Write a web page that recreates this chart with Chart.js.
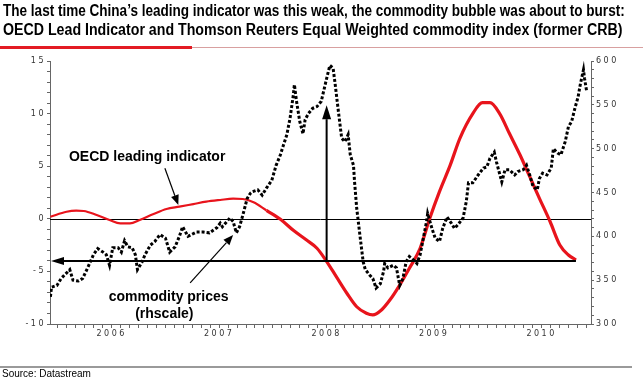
<!DOCTYPE html>
<html>
<head>
<meta charset="utf-8">
<script src="https://cdn.jsdelivr.net/npm/chart.js@4.4.1/dist/chart.umd.min.js"></script>
<style>
  html, body { margin: 0; padding: 0; background: #fff; }
  #wrap { position: relative; width: 643px; height: 385px; overflow: hidden; }
  #chart { position: absolute; left: 0; top: 0; }
  .title { position: absolute; left: 3px; font-family: "Liberation Sans", Arial, sans-serif; font-weight: bold;
           font-size: 16px; line-height: 16px; white-space: nowrap; transform-origin: 0 0; color: #000; }
  .rule { position: absolute; }
  #source { position: absolute; left: 2px; top: 368px; font: 10px "Liberation Sans", Arial, sans-serif; color: #000; }
</style>
</head>
<body>
<div id="wrap">
  <canvas id="chart" width="643" height="385"></canvas>
  <div id="t1" class="title" style="top:3px">The last time China’s leading indicator was this weak, the commodity bubble was about to burst:</div>
  <div id="t2" class="title" style="top:22px">OECD Lead Indicator and Thomson Reuters Equal Weighted commodity index (former CRB)</div>
  <div class="rule" style="left:0;top:46px;width:192px;height:3px;background:#e31b23"></div>
  <div class="rule" style="left:192px;top:47px;width:451px;height:1px;background:#d8a0a0"></div>
  <div class="rule" style="left:0;top:366px;width:632px;height:2px;background:#9a9a9a"></div>
  <div id="source">Source: Datastream</div>
</div>
<script>
// dates are decimal years
const commodityDates = [2005.93, 2005.94, 2005.99, 2006.03, 2006.11, 2006.14, 2006.19, 2006.23, 2006.28, 2006.33,
  2006.37, 2006.42, 2006.45, 2006.48, 2006.51, 2006.56, 2006.59, 2006.62, 2006.65, 2006.69,
  2006.72, 2006.74, 2006.78, 2006.81, 2006.86, 2006.90, 2006.95, 2007.00, 2007.04, 2007.09,
  2007.13, 2007.16, 2007.21, 2007.29, 2007.35, 2007.41, 2007.48, 2007.51, 2007.53, 2007.60,
  2007.63, 2007.66, 2007.69, 2007.72, 2007.76, 2007.79, 2007.81, 2007.86, 2007.90, 2007.94,
  2007.99, 2008.03, 2008.07, 2008.09, 2008.13, 2008.16, 2008.19, 2008.20, 2008.22, 2008.25,
  2008.28, 2008.30, 2008.33, 2008.37, 2008.41, 2008.45, 2008.50, 2008.53, 2008.56, 2008.58,
  2008.61, 2008.64, 2008.67, 2008.70, 2008.72, 2008.75, 2008.76, 2008.78, 2008.81, 2008.84,
  2008.86, 2008.90, 2008.93, 2008.96, 2009.00, 2009.03, 2009.04, 2009.07, 2009.12, 2009.15,
  2009.18, 2009.21, 2009.24, 2009.27, 2009.31, 2009.34, 2009.37, 2009.40, 2009.43, 2009.44,
  2009.48, 2009.51, 2009.55, 2009.58, 2009.62, 2009.66, 2009.69, 2009.72, 2009.77, 2009.80,
  2009.82, 2009.86, 2009.91, 2009.96, 2009.99, 2010.02, 2010.06, 2010.08, 2010.13, 2010.16,
  2010.20, 2010.25, 2010.28, 2010.33, 2010.36, 2010.39, 2010.42, 2010.46, 2010.48, 2010.51,
  2010.55, 2010.59, 2010.61, 2010.65, 2010.68, 2010.72, 2010.75, 2010.78, 2010.81, 2010.84,
  2010.86, 2010.89, 2010.90, 2010.92];
const commodityValues = [331, 342, 344, 352, 362, 350, 349, 352, 365, 379,
  386, 382, 379, 367, 387, 387, 382, 395, 388, 387,
  379, 362, 370, 379, 390, 394, 402, 398, 382, 388,
  400, 411, 400, 405, 405, 404, 410, 415, 411, 421,
  417, 404, 411, 424, 443, 449, 451, 453, 447, 455,
  464, 481, 493, 501, 516, 535, 561, 573, 554, 531,
  517, 533, 540, 546, 548, 554, 580, 595, 592, 573,
  542, 512, 508, 516, 493, 481, 462, 432, 401, 371,
  362, 356, 352, 341, 346, 360, 369, 364, 367, 364,
  344, 352, 371, 377, 373, 369, 379, 398, 417, 426,
  409, 398, 394, 409, 422, 415, 409, 413, 421, 440,
  461, 461, 470, 478, 479, 489, 496, 485, 462, 476,
  476, 470, 474, 476, 481, 470, 457, 453, 466, 472,
  470, 478, 500, 495, 493, 508, 525, 531, 546, 559,
  573, 590, 580, 565];

const oecdDates = [2005.93, 2006.08, 2006.17, 2006.24, 2006.36, 2006.48, 2006.58, 2006.67, 2006.76, 2006.89,
  2007.01, 2007.13, 2007.26, 2007.38, 2007.51, 2007.63, 2007.72, 2007.82, 2007.94, 2008.07,
  2008.19, 2008.31, 2008.41, 2008.49, 2008.59, 2008.69, 2008.78, 2008.87, 2008.93, 2009.01,
  2009.09, 2009.18, 2009.27, 2009.37, 2009.46, 2009.55, 2009.65, 2009.74, 2009.86, 2009.95,
  2010.02, 2010.11, 2010.20, 2010.30, 2010.39, 2010.48, 2010.58, 2010.67, 2010.75, 2010.82];
const oecdValues = [0.2, 0.67, 0.77, 0.74, 0.36, -0.11, -0.43, -0.43, -0.11, 0.46,
  0.93, 1.15, 1.4, 1.63, 1.79, 1.91, 1.88, 1.57, 0.8, -0.05,
  -1.1, -2.0, -2.8, -3.9, -5.5, -7.1, -8.36, -8.98, -9.14, -8.67,
  -7.7, -6.3, -4.7, -2.8, 0.05, 2.58, 5.1, 7.65, 10.0, 11.04,
  11.04, 10.0, 8.13, 6.06, 4.0, 1.95, -0.28, -2.49, -3.44, -3.92];

const yearLabels = ['2006', '2007', '2008', '2009', '2010'];

// annotations, in data units (decimal year, lhs value)
const thresholdLevel = -4;
const thresholdEnd = 2010.82;
const peakArrow = { x: 2008.5, from: -4, to: 10.8 };
const oecdArrow = { x1: 2006.995, y1: 4.8, x2: 2007.12, y2: 1.3 };
const commodityArrow = { x1: 2007.23, y1: -6.1, x2: 2007.63, y2: -1.55 };
const labels = [
  { text: 'OECD leading indicator', x: 2006.83, y: 5.87 },
  { text: 'commodity prices', x: 2007.03, y: -7.43 },
  { text: '(rhscale)', x: 2006.99, y: -9.05 }
];

// squeeze the title lines to the reference widths
[['t1', 622], ['t2', 619]].forEach(([id, w]) => {
  const el = document.getElementById(id);
  el.style.transform = `scaleX(${w / el.offsetWidth})`;
});

const monthTicks = [];
yearLabels.forEach(y => { for (let m = 0; m < 12; m++) monthTicks.push(+y + m / 12); });

const arrow = (ctx, x1, y1, x2, y2, len, half) => {
  const a = Math.atan2(y2 - y1, x2 - x1);
  const bx = x2 - len * Math.cos(a), by = y2 - len * Math.sin(a);
  ctx.beginPath();
  ctx.moveTo(x1, y1);
  ctx.lineTo(bx, by);
  ctx.stroke();
  ctx.beginPath();
  ctx.moveTo(x2, y2);
  ctx.lineTo(bx + half * Math.sin(a), by - half * Math.cos(a));
  ctx.lineTo(bx - half * Math.sin(a), by + half * Math.cos(a));
  ctx.closePath();
  ctx.fill();
};

const annotate = {
  id: 'annotate',
  beforeDraw(chart) {
    chart.ctx.letterSpacing = '2.5px';
  },
  beforeDatasetsDraw(chart) {
    const { ctx, chartArea: a, scales: { y } } = chart;
    ctx.letterSpacing = '0px';
    const y0 = Math.round(y.getPixelForValue(0)) + 0.5;
    ctx.save();
    ctx.strokeStyle = '#000';
    ctx.lineWidth = 1;
    ctx.beginPath();
    ctx.moveTo(a.left, y0);
    ctx.lineTo(a.right, y0);
    ctx.stroke();
    ctx.restore();
  },
  afterDatasetsDraw(chart) {
    const { ctx, chartArea: a, scales: { x, y } } = chart;
    ctx.save();
    ctx.strokeStyle = '#000';
    ctx.fillStyle = '#000';

    // -4 line with arrow to the left axis
    ctx.lineWidth = 2;
    const yt = y.getPixelForValue(thresholdLevel);
    arrow(ctx, x.getPixelForValue(thresholdEnd), yt, a.left + 1, yt, 13, 4);

    // vertical arrow at the commodity peak
    const xp = x.getPixelForValue(peakArrow.x);
    arrow(ctx, xp, y.getPixelForValue(peakArrow.from), xp, y.getPixelForValue(peakArrow.to), 14, 4.5);

    // pointers to the series
    ctx.lineWidth = 1.2;
    [oecdArrow, commodityArrow].forEach(p => {
      arrow(ctx, x.getPixelForValue(p.x1), y.getPixelForValue(p.y1),
        x.getPixelForValue(p.x2), y.getPixelForValue(p.y2), 10, 4);
    });

    ctx.font = 'bold 14px "Liberation Sans", Arial, sans-serif';
    ctx.textAlign = 'center';
    ctx.textBaseline = 'middle';
    labels.forEach(l => ctx.fillText(l.text, x.getPixelForValue(l.x), y.getPixelForValue(l.y)));
    ctx.restore();
  }
};

const tickFont = { family: '"DejaVu Sans", sans-serif', size: 8 };

new Chart(document.getElementById('chart'), {
  type: 'line',
  data: {
    datasets: [
      {
        label: 'commodity prices (rhscale)',
        data: commodityDates.map((d, i) => ({ x: d, y: commodityValues[i] })),
        yAxisID: 'yR',
        borderColor: '#000',
        borderWidth: 3,
        borderDash: [3, 2],
        pointRadius: 0,
        tension: 0,
        order: 0
      },
      {
        label: 'OECD leading indicator',
        data: oecdDates.map((d, i) => ({ x: d, y: oecdValues[i] })),
        yAxisID: 'y',
        borderColor: '#e8141c',
        borderWidth: 2.2,
        segment: { borderWidth: c => (c.p0.parsed.x > 2007.9 ? 3.2 : 2.2) },
        pointRadius: 0,
        cubicInterpolationMode: 'monotone',
        order: 1
      }
    ]
  },
  options: {
    responsive: false,
    animation: false,
    devicePixelRatio: 1,
    layout: { padding: { top: 61, left: 0, right: 0, bottom: 0 } },
    plugins: { legend: { display: false }, tooltip: { enabled: false } },
    scales: {
      x: {
        type: 'linear',
        min: 2005.926,
        max: 2010.96,
        afterBuildTicks: s => { s.ticks = monthTicks.map(v => ({ value: v })); },
        afterFit: s => { s.height = 61; },
        grid: { drawOnChartArea: false, tickLength: 4, color: '#666' },
        border: { color: '#666' },
        ticks: {
          autoSkip: false,
          maxRotation: 0,
          padding: 1,
          font: tickFont,
          color: '#333',
          callback: v => (Math.round((v - Math.floor(v)) * 12) === 6 ? String(Math.floor(v)) : '')
        }
      },
      y: {
        position: 'left',
        min: -10,
        max: 15,
        afterFit: s => { s.width = 50; },
        grid: { drawOnChartArea: false, tickLength: 3, color: '#666' },
        border: { color: '#666' },
        ticks: {
          stepSize: 1,
          autoSkip: false,
          padding: 1,
          font: tickFont,
          color: '#333',
          callback: v => (v % 5 === 0 ? String(v) : '')
        }
      },
      yR: {
        position: 'right',
        min: 300,
        max: 600,
        afterFit: s => { s.width = 52; },
        grid: { drawOnChartArea: false, tickLength: 3, color: '#666' },
        border: { color: '#666' },
        ticks: {
          stepSize: 10,
          autoSkip: false,
          padding: 2,
          font: tickFont,
          color: '#333',
          callback: v => (v % 50 === 0 ? String(v) : '')
        }
      }
    }
  },
  plugins: [annotate]
});
</script>
</body>
</html>
